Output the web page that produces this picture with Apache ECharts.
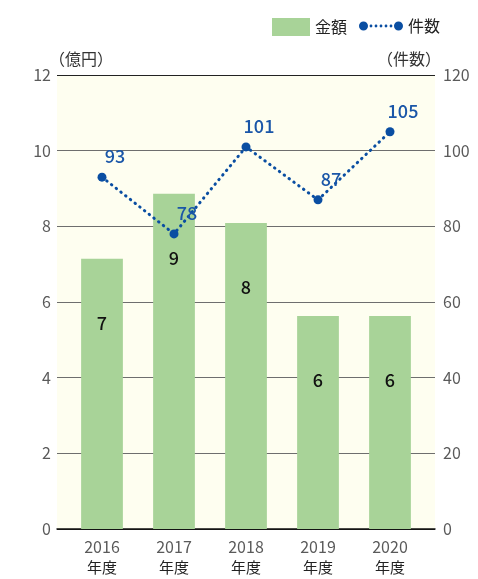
<!DOCTYPE html>
<html><head><meta charset="utf-8">
<script src="https://cdn.jsdelivr.net/npm/echarts@6/dist/echarts.min.js"></script>
<style>html,body{margin:0;padding:0;background:#fff}#c{width:478px;height:579px}</style>
</head><body><div id="c"></div>
<script>
const categories = ['2016', '2017', '2018', '2019', '2020'];
const amounts = [7.14, 8.86, 8.09, 5.63, 5.63];
const amountLabels = ['7', '9', '8', '6', '6'];
const counts = [93, 78, 101, 87, 105];
const leftTicks = [0, 2, 4, 6, 8, 10, 12];
const rightTicks = [0, 20, 40, 60, 80, 100, 120];

const font = '"Noto Sans CJK JP", "Noto Sans", sans-serif';
const blue = '#0a4ea2';
const green = '#a8d398';
const chart = echarts.init(document.getElementById('c'));

function dot(cx, cy, r) {
  return 'M' + (cx - r) + ' ' + cy + 'a' + r + ' ' + r + ' 0 1 0 ' + (2 * r) + ' 0a' + r + ' ' + r + ' 0 1 0 ' + (-2 * r) + ' 0Z';
}
const lineIcon = 'path://' + dot(4.5, 4.5, 4.5) + dot(12, 4.5, 1.4) + dot(17, 4.5, 1.4) + dot(22, 4.5, 1.4) + dot(27, 4.5, 1.4) + dot(32, 4.5, 1.4) + dot(39.5, 4.5, 4.5);

chart.setOption({
  animation: false,
  textStyle: { fontFamily: font },
  legend: [
    {
      left: 267, top: 13, itemWidth: 38, itemHeight: 18, itemGap: 6,
      textStyle: { fontSize: 16, color: '#222', fontFamily: font },
      data: [{ name: '金額', icon: 'rect', itemStyle: { color: green } }]
    },
    {
      left: 354, top: 13, itemWidth: 44, itemHeight: 9, itemGap: 4,
      textStyle: { fontSize: 16, color: '#222', fontFamily: font },
      data: [{ name: '件数', icon: lineIcon, itemStyle: { color: blue } }]
    }
  ],
  grid: [
    { left: 57, right: 43, top: 75, bottom: 50, show: true, backgroundColor: '#fefef0', borderWidth: 0 },
    { left: 66, right: 52, top: 75, bottom: 50 }
  ],
  xAxis: [
    {
      type: 'category', gridIndex: 0, data: categories,
      axisLine: { lineStyle: { color: '#111', width: 1.5 } },
      axisTick: { show: false }, axisLabel: { show: false }
    },
    {
      type: 'category', gridIndex: 1, data: categories,
      axisLine: { show: false },
      axisTick: { show: false },
      axisLabel: {
        margin: 8, lineHeight: 20,
        formatter: v => '{a|' + v + '}\n{b|年度}',
        rich: {
          a: { fontSize: 16, color: '#5a5a5a', fontFamily: font, lineHeight: 20 },
          b: { fontSize: 15, color: '#222', fontFamily: font, lineHeight: 20 }
        }
      }
    }
  ],
  yAxis: [
    {
      type: 'value', gridIndex: 0, min: 0, max: 12, interval: 2,
      name: '（億円）', nameLocation: 'end', nameGap: 8,
      nameTextStyle: { fontSize: 16, color: '#333', align: 'left', padding: [0, 0, 0, -8], fontFamily: font },
      axisLine: { show: false }, axisTick: { show: false },
      axisLabel: { fontSize: 16, color: '#5a5a5a', margin: 6, formatter: v => leftTicks.includes(v) ? String(v) : '' },
      splitLine: { lineStyle: { color: ['#222', '#6e6e6e', '#6e6e6e', '#6e6e6e', '#6e6e6e', '#6e6e6e', '#222'], width: 1 } }
    },
    {
      type: 'value', gridIndex: 0, min: 0, max: 120, interval: 20,
      name: '（件数）', nameLocation: 'end', nameGap: 8,
      nameTextStyle: { fontSize: 16, color: '#333', align: 'right', padding: [0, -6, 0, 0], fontFamily: font },
      axisLine: { show: false }, axisTick: { show: false },
      axisLabel: { fontSize: 16, color: '#5a5a5a', margin: 8, formatter: v => rightTicks.includes(v) ? String(v) : '' },
      splitLine: { show: false }
    },
    { type: 'value', gridIndex: 1, min: 0, max: 12, interval: 2, show: false },
    { type: 'value', gridIndex: 1, min: 0, max: 120, interval: 20, show: false, position: 'right' }
  ],
  series: [
    {
      name: '金額', type: 'bar', xAxisIndex: 1, yAxisIndex: 2, barWidth: '58%',
      itemStyle: { color: green },
      data: amounts,
      label: {
        show: true, position: ['50%', 64], align: 'center', verticalAlign: 'middle',
        fontSize: 18, color: '#111', fontWeight: 500, fontFamily: font,
        formatter: p => amountLabels[p.dataIndex]
      },
      z: 2
    },
    {
      name: '件数', type: 'line', xAxisIndex: 1, yAxisIndex: 3,
      data: counts,
      symbol: 'circle', symbolSize: 9,
      lineStyle: { color: blue, width: 3, type: [0.5, 5.5], cap: 'round' },
      itemStyle: { color: blue },
      label: {
        show: true, position: 'top', offset: [13, -2],
        fontSize: 18, color: '#1a56a8', fontWeight: 500, fontFamily: font
      },
      z: 5
    }
  ]
});
</script></body></html>
